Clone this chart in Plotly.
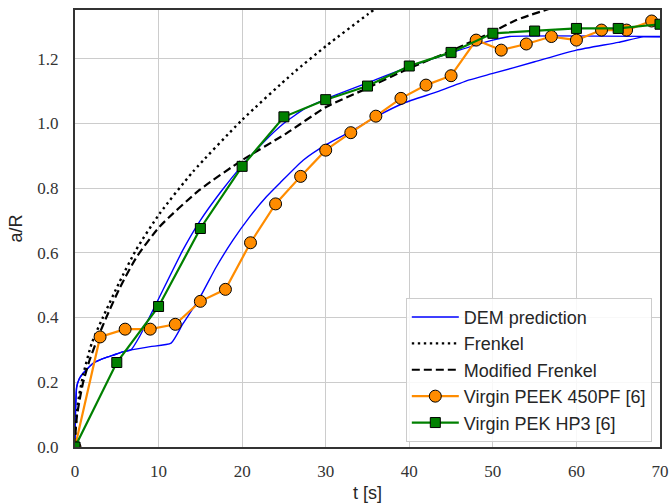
import plotly.graph_objects as go

# ---- data ----
peek_t = [0, 3, 6, 9, 12, 15, 18, 21, 24, 27, 30, 33, 36, 39, 42, 45, 48, 51, 54, 57, 60, 63, 66, 69]
peek_a = [0.0, 0.34, 0.364, 0.364, 0.379, 0.45, 0.487, 0.631, 0.751, 0.836, 0.917, 0.971, 1.022, 1.077,
          1.118, 1.147, 1.257, 1.226, 1.245, 1.268, 1.257, 1.288, 1.288, 1.316]

pek_t = [0, 5, 10, 15, 20, 25, 30, 35, 40, 45, 50, 55, 60, 65, 70]
pek_a = [0.0, 0.261, 0.434, 0.675, 0.867, 1.020, 1.073, 1.115, 1.177, 1.219, 1.278, 1.285, 1.293, 1.293, 1.306]

dem1_t = [0, 0.05, 0.2, 0.5, 0.94, 2.13, 3.33, 4.5, 5.7, 6.7, 7.7, 9.72, 12.9, 15.0, 17.5, 20.0, 22.5,
          25.0, 27.5, 30.0, 35.0, 40.0, 45.0, 50.0, 52.0, 70.0]
dem1_a = [0.0, 0.10, 0.185, 0.21, 0.227, 0.258, 0.273, 0.283, 0.294, 0.30, 0.34, 0.443, 0.608, 0.70, 0.79,
          0.87, 0.94, 1.0, 1.045, 1.075, 1.125, 1.175, 1.218, 1.257, 1.268, 1.268]

dem2_t = [0, 0.05, 0.2, 0.5, 0.94, 2.13, 3.33, 4.5, 5.7, 6.7, 9.0, 11.5, 12.9, 14.9, 16.9, 18.9, 20.9,
          22.9, 24.5, 27.3, 30.1, 33.3, 36.0, 39.3, 43.3, 47.2, 50.0, 55.0, 60.0, 65.0, 68.0, 70.0]
dem2_a = [0.0, 0.10, 0.185, 0.21, 0.227, 0.258, 0.273, 0.283, 0.294, 0.30, 0.31, 0.321, 0.38, 0.46, 0.556,
          0.639, 0.711, 0.773, 0.815, 0.886, 0.935, 0.979, 1.02, 1.062, 1.097, 1.134, 1.154, 1.19, 1.226,
          1.25, 1.267, 1.267]

frenkel_t = [0, 0.05, 0.25, 0.5, 1, 2, 3.33, 5.33, 7.33, 10.1, 14.1, 19.9, 26.1, 30.1, 35.1, 36.5]
frenkel_a = [0.0, 0.05, 0.11, 0.16, 0.225, 0.32, 0.40, 0.51, 0.61, 0.72, 0.850, 1.008, 1.155, 1.24, 1.338, 1.365]

modfr_t = [0, 0.05, 0.22, 0.54, 0.94, 1.74, 2.93, 3.74, 5.33, 7.33, 10.1, 14.9, 20.0, 25.3, 30.1, 34.5,
           40.0, 45.2, 50.0, 52.8, 57.5]
modfr_a = [0.0, 0.04, 0.093, 0.144, 0.196, 0.268, 0.35, 0.40, 0.49, 0.585, 0.68, 0.794, 0.886, 0.969, 1.051,
           1.103, 1.17, 1.226, 1.283, 1.319, 1.36]

x_ticks = [0, 10, 20, 30, 40, 50, 60, 70]
y_ticks = [0.0, 0.2, 0.4, 0.6, 0.8, 1.0, 1.2]

fig = go.Figure()
fig.add_trace(go.Scatter(x=dem1_t, y=dem1_a, mode="lines", name="DEM prediction",
                         line=dict(color="#0000ff", width=1.4, shape="spline", smoothing=0.5)))
fig.add_trace(go.Scatter(x=dem2_t, y=dem2_a, mode="lines", name="DEM prediction", showlegend=False,
                         line=dict(color="#0000ff", width=1.4, shape="spline", smoothing=0.5)))
fig.add_trace(go.Scatter(x=frenkel_t, y=frenkel_a, mode="lines", name="Frenkel",
                         line=dict(color="black", width=2.4, dash="2.4px,3.6px", shape="spline", smoothing=0.6)))
fig.add_trace(go.Scatter(x=modfr_t, y=modfr_a, mode="lines", name="Modified Frenkel",
                         line=dict(color="black", width=2.2, dash="8px,4px", shape="spline", smoothing=0.6)))
fig.add_trace(go.Scatter(x=peek_t, y=peek_a, mode="lines+markers", name="Virgin PEEK 450PF [6]",
                         line=dict(color="#ff8c00", width=2.2),
                         marker=dict(symbol="circle", size=12, color="#ff8c00",
                                     line=dict(color="black", width=1))))
fig.add_trace(go.Scatter(x=pek_t, y=pek_a, mode="lines+markers", name="Virgin PEK HP3 [6]",
                         line=dict(color="#008000", width=2.2),
                         marker=dict(symbol="square", size=10, color="#008000",
                                     line=dict(color="black", width=1))))

serif = "Liberation Serif, Times New Roman, DejaVu Serif, serif"
axis_common = dict(
    showgrid=True, gridcolor="#cccccc", gridwidth=1.3, zeroline=False,
    showline=True, linecolor="#333333", linewidth=2, mirror=True, automargin=False,
    ticks="", tickfont=dict(family=serif, size=17, color="#333333"),
)

fig.update_layout(
    width=671, height=504,
    margin=dict(l=75, r=11, t=10, b=57, autoexpand=False),
    paper_bgcolor="white", plot_bgcolor="white",
    font=dict(family="Liberation Sans", color="#262626"),
    xaxis=dict(range=[0, 70], tickvals=x_ticks, ticktext=[str(v) for v in x_ticks],
               title=dict(text="t [s]", font=dict(family="Liberation Sans", size=18, color="#262626"),
                          standoff=6),
               ticklabelstandoff=8, **axis_common),
    yaxis=dict(range=[0, 1.35], tickvals=y_ticks, ticktext=[f"{v:.1f}" for v in y_ticks],
               title=dict(text="a/R", font=dict(family="Liberation Sans", size=18, color="#262626"),
                          standoff=10),
               ticklabelstandoff=11, **axis_common),
    legend=dict(x=0.986, y=0.012, xanchor="right", yanchor="bottom",
                bgcolor="rgba(255,255,255,0.85)", bordercolor="#cccccc", borderwidth=1,
                font=dict(family="Liberation Sans", size=18, color="#262626"),
                tracegroupgap=0, itemwidth=47),
    showlegend=True,
)

fig.write_html("out.html")
